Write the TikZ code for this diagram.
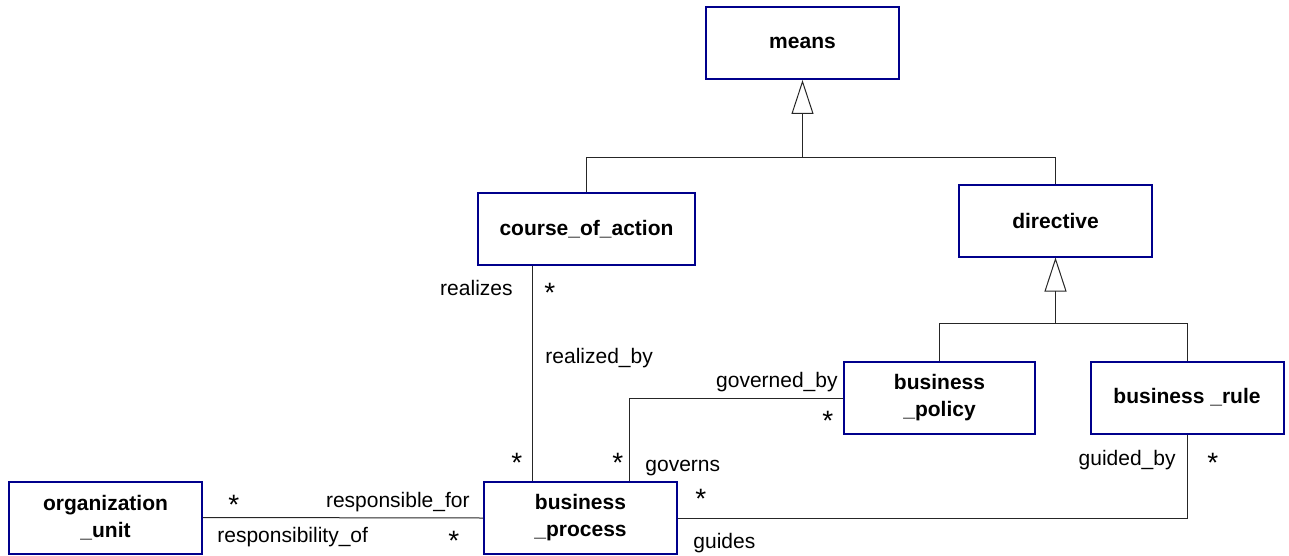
\documentclass[tikz,border=0pt]{standalone}
\usepackage{fontspec}
\setmainfont{Liberation Sans}
\usetikzlibrary{arrows.meta}
\definecolor{classblue}{RGB}{0,0,140}
\begin{document}
\begin{tikzpicture}[x=0.5pt,y=-0.5pt,
  classbox/.style={draw=classblue,line width=1pt,fill=white,minimum width=96.5pt,
    minimum height=36pt,align=center,font=\fontsize{10.5}{13.5}\selectfont\bfseries,inner sep=0pt},
  link/.style={draw=black!85,line width=0.5pt},
  gen/.style={link,-{Triangle[open,length=17pt,width=11pt]}},
  role/.style={inner sep=0pt,font=\fontsize{10.5}{12.6}\selectfont},
  mult/.style={inner sep=0pt,font=\fontsize{14}{16}\selectfont}]
\useasboundingbox (0,0) rectangle (1289,556);

% classes
\node[classbox] (means) at (802.5,43) {means};
\node[classbox,minimum width=108.5pt] (coa) at (586.5,229) {course\_of\_action};
\node[classbox] (dir) at (1055.5,220.5) {directive};
\node[classbox,minimum width=95.5pt] (pol) at (939.5,398) {business\\\_policy};
\node[classbox] (rule) at (1187,397.5) {business \_rule};
\node[classbox] (org) at (105.5,517.5) {organization\\\_unit};
\node[classbox] (proc) at (580.5,518) {business\\\_process};

% generalisation: means
\coordinate (j1) at (802.5,157);
\draw[link] (coa.north) -- (coa.north |- j1) -- (dir.north |- j1) -- (dir.north);
\draw[gen] (j1) -- (means.south);

% generalisation: directive
\coordinate (j2) at (1055.5,323);
\draw[link] (pol.north) -- (pol.north |- j2) -- (rule.north |- j2) -- (rule.north);
\draw[gen] (j2) -- (dir.south);

% associations
\coordinate (xr) at (532,0);
\coordinate (xg) at (629,0);
\draw[link] (coa.south -| xr) -- (proc.north -| xr);
\draw[link] (pol.west) -| (proc.north -| xg);
\draw[link] (proc.east) -| (rule.south);
\draw[link] (org.east) -- (proc.west);

% role names and multiplicities
\node[role,anchor=base east] (l1) at (513,295) {realizes};
\node[mult,anchor=base west] (m1) at (544,302) {*};
\node[role,anchor=base west] (l2) at (545,363) {realized\_by};
\node[mult,anchor=base west] (m2) at (511,472) {*};

\node[role,anchor=base east] (l3) at (838,387) {governed\_by};
\node[mult,anchor=base west] (m3) at (822,430) {*};
\node[mult,anchor=base west] (m4) at (612,472) {*};
\node[role,anchor=base west] (l4) at (645,471) {governs};

\node[mult,anchor=base west] (m5) at (695,508) {*};
\node[role,anchor=base west] (l5) at (693,548) {guides};
\node[role,anchor=base east] (l6) at (1176,465) {guided\_by};
\node[mult,anchor=base west] (m6) at (1207,472) {*};

\node[mult,anchor=base west] (m7) at (228,514) {*};
\node[role,anchor=base east] (l7) at (470,507) {responsible\_for};
\node[role,anchor=base west] (l8) at (217,542) {responsibility\_of};
\node[mult,anchor=base west] (m8) at (448,550) {*};
\end{tikzpicture}
\end{document}
